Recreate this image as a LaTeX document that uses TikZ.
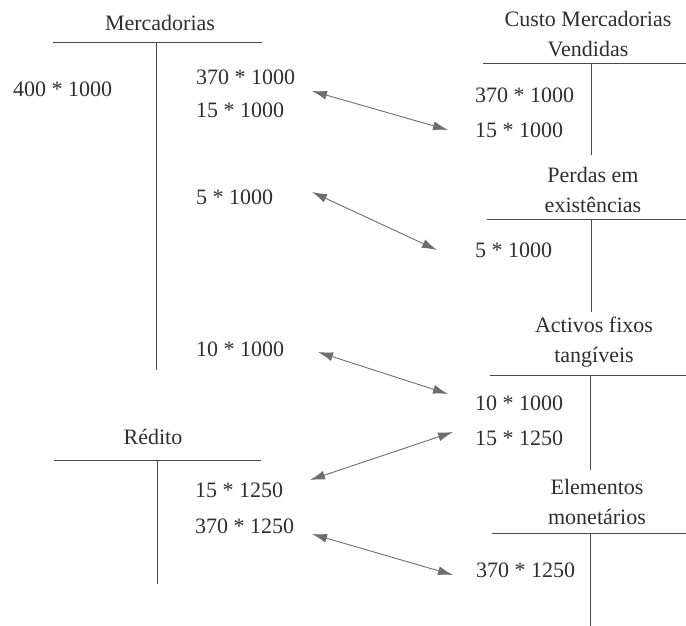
\documentclass[tikz,border=0pt]{standalone}
\usepackage{fontspec}
\setmainfont{Liberation Serif}
\usetikzlibrary{arrows.meta}
\definecolor{inkgray}{HTML}{2E2E2E}
\definecolor{rulegray}{HTML}{4A4A4A}
\definecolor{arrowgray}{HTML}{6E6E6E}

\begin{document}
\begin{tikzpicture}[
        x=1pt, y=-1pt,
        font=\fontsize{22}{30}\selectfont,
        every node/.style={text=inkgray, inner sep=0pt},
        amount/.style={anchor=west},
        title/.style={align=center},
        tline/.style={draw=rulegray, line width=1pt},
        link/.style={{Latex[length=15pt,width=9pt]}-{Latex[length=15pt,width=9pt]}, draw=arrowgray, line width=0.9pt},
    ]
        \useasboundingbox (0,0) rectangle (686,626);

        % Left: Mercadorias
        \node[title] (merc) at (160,23) {Mercadorias};
        \coordinate (mercL) at (53,43);
        \coordinate (mercR) at (262,43);
        \coordinate (mercT) at (156,43);
        \coordinate (mercB) at (156,370);
        \draw[tline] (mercL) -- (mercR);
        \draw[tline] (mercT) -- (mercB);
        \node[amount] (m400) at (13,89) {400 * 1000};
        \node[amount] (m370) at (196,77) {370 * 1000};
        \node[amount] (m15) at (196,110) {15 * 1000};
        \node[amount] (m5) at (196,197) {5 * 1000};
        \node[amount] (m10) at (196,349) {10 * 1000};

        % Left: Rédito
        \node[title] (red) at (153,437) {Rédito};
        \coordinate (redL) at (54,460);
        \coordinate (redR) at (261,460);
        \coordinate (redT) at (157,460);
        \coordinate (redB) at (157,584);
        \draw[tline] (redL) -- (redR);
        \draw[tline] (redT) -- (redB);
        \node[amount] (r15) at (195,490) {15 * 1250};
        \node[amount] (r370) at (195,526) {370 * 1250};

        % Right: Custo Mercadorias Vendidas
        \node[title] (cmv) at (588,34) {Custo Mercadorias\\Vendidas};
        \coordinate (cmvL) at (483,64);
        \coordinate (cmvR) at (686,64);
        \coordinate (cmvT) at (591,64);
        \coordinate (cmvB) at (591,155);
        \draw[tline] (cmvL) -- (cmvR);
        \draw[tline] (cmvT) -- (cmvB);
        \node[amount] (c370) at (475,95) {370 * 1000};
        \node[amount] (c15) at (475,130) {15 * 1000};

        % Right: Perdas em existências
        \node[title] (perd) at (593,190) {Perdas em\\existências};
        \coordinate (perdL) at (487,219);
        \coordinate (perdR) at (686,219);
        \coordinate (perdT) at (591,219);
        \coordinate (perdB) at (591,312);
        \draw[tline] (perdL) -- (perdR);
        \draw[tline] (perdT) -- (perdB);
        \node[amount] (p5) at (475,250) {5 * 1000};

        % Right: Activos fixos tangíveis
        \node[title] (aft) at (594,342) {Activos fixos\\tangíveis};
        \coordinate (aftL) at (490,375);
        \coordinate (aftR) at (686,375);
        \coordinate (aftT) at (590,375);
        \coordinate (aftB) at (590,470);
        \draw[tline] (aftL) -- (aftR);
        \draw[tline] (aftT) -- (aftB);
        \node[amount] (a10) at (475,403) {10 * 1000};
        \node[amount] (a15) at (475,438) {15 * 1250};

        % Right: Elementos monetários
        \node[title] (emon) at (597,502) {Elementos\\monetários};
        \coordinate (emonL) at (492,533);
        \coordinate (emonR) at (686,533);
        \coordinate (emonT) at (590,533);
        \coordinate (emonB) at (590,626);
        \draw[tline] (emonL) -- (emonR);
        \draw[tline] (emonT) -- (emonB);
        \node[amount] (e370) at (476,570) {370 * 1250};

        % Links between accounts
        \coordinate (l1a) at (312,91);   \coordinate (l1b) at (448,130);
        \coordinate (l2a) at (312,192);  \coordinate (l2b) at (437,250);
        \coordinate (l3a) at (318,352);  \coordinate (l3b) at (448,394);
        \coordinate (l4a) at (310,480);  \coordinate (l4b) at (453,432);
        \coordinate (l5a) at (312,534);  \coordinate (l5b) at (453,575);
        \draw[link] (l1a) -- (l1b);
        \draw[link] (l2a) -- (l2b);
        \draw[link] (l3a) -- (l3b);
        \draw[link] (l4a) -- (l4b);
        \draw[link] (l5a) -- (l5b);
    \end{tikzpicture}
\end{document}
